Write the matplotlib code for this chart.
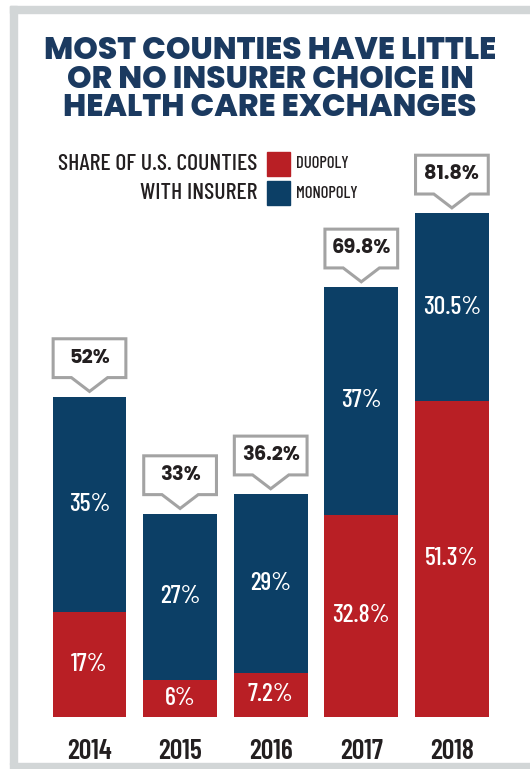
import matplotlib
matplotlib.use("Agg")
import matplotlib.pyplot as plt
from matplotlib.patches import Rectangle, Polygon

COL_DUO = "#b91f25"
COL_MONO = "#0c3f66"
COL_TITLE = "#1b3a60"
COL_TEXT = "#231f20"
COL_FRAME = "#d2d6d7"
COL_BOX = "#a3a3a3"

years = ["2014", "2015", "2016", "2017", "2018"]
duopoly = [17, 6, 7.2, 32.8, 51.3]
monopoly = [35, 27, 29, 37, 30.5]
duo_labels = ["17%", "6%", "7.2%", "32.8%", "51.3%"]
mono_labels = ["35%", "27%", "29%", "37%", "30.5%"]
total_labels = ["52%", "33%", "36.2%", "69.8%", "81.8%"]

NARROW = ["Barlow Condensed", "Roboto Condensed", "DejaVu Sans"]
HEAVY = ["Poppins", "Lato", "DejaVu Sans"]

W, H = 530, 769
fig = plt.figure(figsize=(W / 100, H / 100), dpi=100)
fig.patch.set_facecolor("white")

# grey frame: left, top, bottom strips
for x0, y0, w, h in [(10, 6, 7, 758), (10, 6, 520, 7), (10, 763, 520, 6)]:
    fig.patches.append(Rectangle((x0 / W, 1 - (y0 + h) / H), w / W, h / H,
                                 transform=fig.transFigure, color=COL_FRAME, zorder=0))

# axes over whole figure, scaled so bars land in place
ax = fig.add_axes([0, 0, 1, 1])
ax.set_axis_off()
px_x = 90.6   # pixels per category
px_y = 6.16   # pixels per percent
ax.set_xlim(-89.5 / px_x, (W - 89.5) / px_x)
ax.set_ylim(-52 / px_y, (H - 52) / px_y)

xs = list(range(len(years)))
bw = 0.815
ax.bar(xs, duopoly, width=bw, color=COL_DUO, zorder=2)
ax.bar(xs, monopoly, width=bw, bottom=duopoly, color=COL_MONO, zorder=2)

for i in xs:
    d, m = duopoly[i], monopoly[i]
    top = d + m
    ax.text(i, d / 2, duo_labels[i], color="white", ha="center", va="center",
            family=NARROW, fontweight="medium", fontsize=18.5, zorder=3)
    ax.text(i, d + m / 2, mono_labels[i], color="white", ha="center", va="center",
            family=NARROW, fontweight="medium", fontsize=18.5, zorder=3)
    ax.text(i, -5.6, years[i], color=COL_TEXT, ha="center", va="center",
            family=NARROW, fontweight="semibold", fontsize=20)

    # callout box with a pointer
    tip = top + 0.85
    base = top + 3.1
    btop = top + 9.4
    hw = bw / 2 * 0.985
    pw = 0.2
    pts = [(i - hw, base), (i - pw, base), (i, tip), (i + pw, base), (i + hw, base),
           (i + hw, btop), (i - hw, btop)]
    ax.add_patch(Polygon(pts, closed=True, facecolor="white", edgecolor=COL_BOX,
                         linewidth=2.2, joinstyle="miter", zorder=4))
    ax.text(i, (base + btop) / 2, total_labels[i], color=COL_TEXT, ha="center", va="center",
            family=HEAVY, fontweight="bold", fontsize=14, zorder=5)

# title
fig.text(270 / W, 1 - 80 / H, "MOST COUNTIES HAVE LITTLE\nOR NO INSURER CHOICE IN\nHEALTH CARE EXCHANGES",
         ha="center", va="center", color=COL_TITLE, family=HEAVY, fontweight="heavy",
         fontsize=22.5, linespacing=0.9)

# legend
fig.text(257 / W, 1 - 164 / H, "SHARE OF U.S. COUNTIES", ha="right", va="center",
         color=COL_TEXT, family=NARROW, fontweight="medium", fontsize=17)
fig.text(257 / W, 1 - 193 / H, "WITH INSURER", ha="right", va="center",
         color=COL_TEXT, family=NARROW, fontweight="medium", fontsize=17)
for y0, col, lab in [(152, COL_DUO, "DUOPOLY"), (181, COL_MONO, "MONOPOLY")]:
    fig.patches.append(Rectangle((267 / W, 1 - (y0 + 24) / H), 23 / W, 24 / H,
                                 transform=fig.transFigure, color=col))
    fig.text(296 / W, 1 - (y0 + 12) / H, lab, ha="left", va="center", color=COL_TEXT,
             family=NARROW, fontweight="medium", fontsize=12)

plt.savefig("out.png", dpi=100)
